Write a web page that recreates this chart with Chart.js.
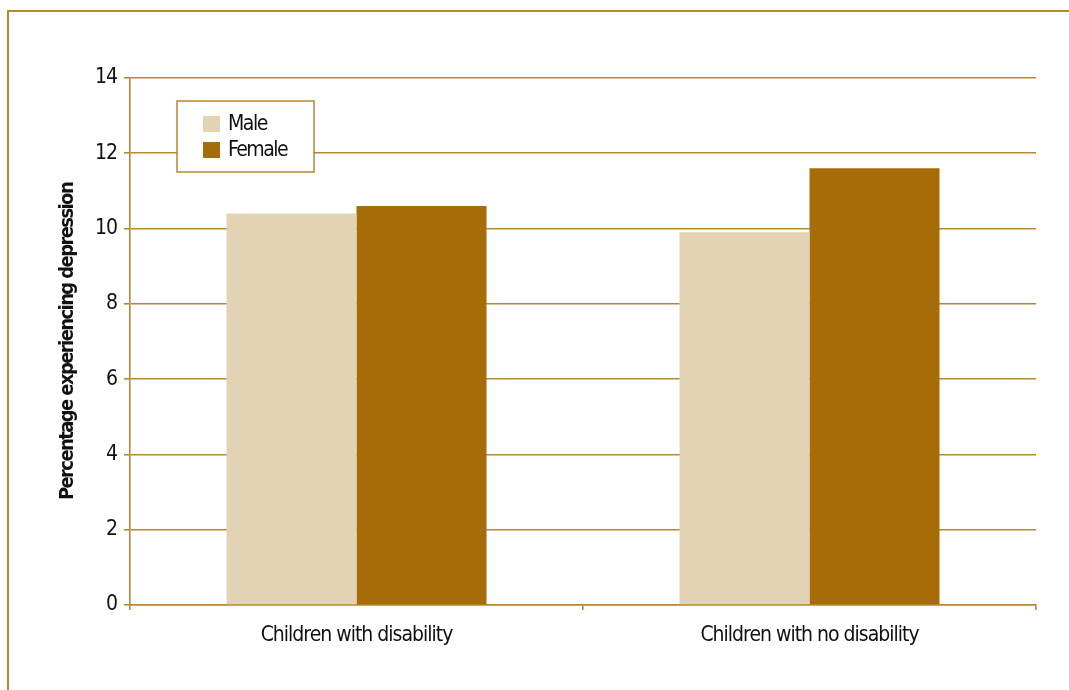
<!DOCTYPE html>
<html>
<head>
<meta charset="utf-8">
<script src="https://cdn.jsdelivr.net/npm/chart.js@4"></script>
<style>
  html, body { margin: 0; padding: 0; background: #fff; }
  #wrap { width: 1069px; height: 690px; position: relative; }
</style>
</head>
<body>
<div id="wrap"><canvas id="depChart" width="1069" height="690"></canvas></div>
<script>
const categories = ['Children with disability', 'Children with no disability'];
const maleValues = [10.4, 9.9];
const femaleValues = [10.6, 11.6];
const yTicks = [0, 2, 4, 6, 8, 10, 12, 14];
const yTitle = 'Percentage experiencing depression';

const lineCol = '#b8872f';
const maleCol = '#e3d3b5';
const femaleCol = '#a66c07';
const fontFam = '"Liberation Sans Narrow", "DejaVu Sans Condensed", "Roboto Condensed", sans-serif';

// page frame (top and left rule only) + tighter letter spacing for tick text
const framePlugin = {
    id: 'frame',
    beforeDraw(chart) {
        const ctx = chart.ctx;
        ctx.letterSpacing = '-1px';
        ctx.save();
        ctx.strokeStyle = lineCol;
        ctx.lineWidth = 2;
        ctx.beginPath();
        ctx.moveTo(8, 700);
        ctx.lineTo(8, 11);
        ctx.lineTo(1080, 11);
        ctx.stroke();
        ctx.restore();
    }
};

// rotated y title and boxed legend
const extras = {
    id: 'extras',
    afterDatasetsDraw(chart) {
        const ctx = chart.ctx;
        const area = chart.chartArea;

        ctx.save();
        ctx.translate(68, (area.top + area.bottom) / 2);
        ctx.rotate(-Math.PI / 2);
        ctx.font = 'bold 20px ' + fontFam;
        ctx.letterSpacing = '-1.6px';
        ctx.fillStyle = '#111';
        ctx.textAlign = 'center';
        ctx.textBaseline = 'middle';
        ctx.fillText(yTitle, 0, 0);
        ctx.restore();

        const x = area.left + 47;
        const y = area.top + 23;
        ctx.save();
        ctx.fillStyle = '#fff';
        ctx.fillRect(x, y, 137, 71);
        ctx.strokeStyle = lineCol;
        ctx.lineWidth = 1.5;
        ctx.strokeRect(x, y, 137, 71);
        ctx.font = '21px ' + fontFam;
        ctx.letterSpacing = '-1.5px';
        ctx.textBaseline = 'middle';
        chart.data.datasets.forEach((ds, i) => {
            const rowY = y + 23 + i * 26;
            ctx.fillStyle = ds.backgroundColor;
            ctx.fillRect(x + 26, rowY - 8, 17, 16);
            ctx.fillStyle = '#111';
            ctx.fillText(ds.label, x + 51, rowY + 1);
        });
        ctx.restore();
    }
};

new Chart(document.getElementById('depChart'), {
    type: 'bar',
    data: {
        labels: categories,
        datasets: [
            { label: 'Male', data: maleValues, backgroundColor: maleCol },
            { label: 'Female', data: femaleValues, backgroundColor: femaleCol }
        ]
    },
    options: {
        responsive: false,
        animation: false,
        layout: { padding: { left: 0, top: 78, right: 33, bottom: 0 } },
        datasets: { bar: { categoryPercentage: 0.574, barPercentage: 1.0 } },
        plugins: { legend: { display: false }, tooltip: { enabled: false } },
        scales: {
            x: {
                offset: true,
                grid: { offset: true, drawOnChartArea: false, drawTicks: true, tickLength: 5, color: lineCol, lineWidth: 1.6 },
                border: { color: lineCol, width: 1.6 },
                ticks: { color: '#111', padding: 13, font: { family: fontFam, size: 21 } },
                afterFit: (s) => { s.height = 85; }
            },
            y: {
                min: 0,
                max: 14,
                afterBuildTicks: (s) => { s.ticks = yTicks.map(v => ({ value: v })); },
                grid: { color: lineCol, lineWidth: 1.6, tickLength: 6 },
                border: { color: lineCol, width: 1.6 },
                ticks: { color: '#111', padding: 7, font: { family: fontFam, size: 21 } },
                afterFit: (s) => { s.width = 130; }
            }
        }
    },
    plugins: [framePlugin, extras]
});
</script>
</body>
</html>
